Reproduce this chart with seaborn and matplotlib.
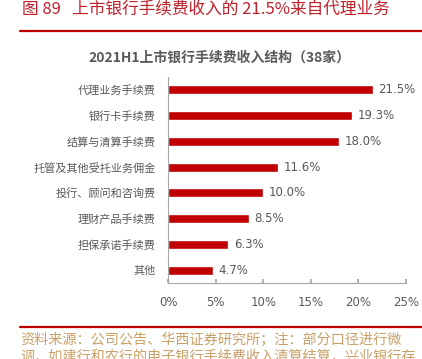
import matplotlib
matplotlib.use("Agg")
import matplotlib.pyplot as plt
import seaborn as sns
import pandas as pd

categories = ["代理业务手续费", "银行卡手续费", "结算与清算手续费", "托管及其他受托业务佣金",
              "投行、顾问和咨询费", "理财产品手续费", "担保承诺手续费", "其他"]
values = [21.5, 19.3, 18.0, 11.6, 10.0, 8.5, 6.3, 4.7]
xticks = [0, 5, 10, 15, 20, 25]

sns.set_theme(style="white")
plt.rcParams['font.family'] = ['Noto Sans CJK SC', 'DejaVu Sans']

df = pd.DataFrame({"cat": categories, "val": values})

fig = plt.figure(figsize=(4.22, 3.59), dpi=100)
ax = fig.add_axes([168/422, 1-283/359, (406-168)/422, (283-77)/359])
sns.barplot(data=df, y="cat", x="val", color="#C00000", width=0.35, ax=ax, saturation=1)
ax.set_xlim(0, 25)
ax.set_xticks(xticks)
ax.set_xticklabels([f"{t}%" for t in xticks], fontsize=8.5, color="#595959", family="DejaVu Sans")
ax.set_ylabel("")
ax.set_xlabel("")
ax.tick_params(axis="x", direction="in", length=3, color="#A6A6A6", pad=9, bottom=True)
ax.tick_params(axis="y", length=0, pad=9)
for lbl in ax.get_yticklabels():
    lbl.set_fontsize(8)
    lbl.set_color("#595959")
for s in ["top", "right"]:
    ax.spines[s].set_visible(False)
for s in ["left", "bottom"]:
    ax.spines[s].set_color("#A6A6A6")
    ax.spines[s].set_linewidth(0.8)
for i, v in enumerate(values):
    ax.text(v + 0.6, i, f"{v:.1f}%", va="center", ha="left", fontsize=8.5, color="#595959",
            family="DejaVu Sans")

fig.text(22/422, 1-9/359, "图 89   上市银行手续费收入的 21.5%来自代理业务", color="#C0202A",
         fontsize=12, va="center", ha="left")
fig.add_artist(plt.Line2D([20/422, 1], [1-31/359, 1-31/359], color="#C00000", lw=1.6))
fig.text(0.52, 1-58/359, "2021H1上市银行手续费收入结构（38家）", color="#595959",
         fontsize=10, fontweight="bold", va="center", ha="center")
fig.add_artist(plt.Line2D([20/422, 1], [1-327/359, 1-327/359], color="#C00000", lw=1.6))
fig.text(20/422, 1-340/359, "资料来源：公司公告、华西证券研究所；注：部分口径进行微",
         color="#C8A068", fontsize=10.2, va="center", ha="left")
fig.text(20/422, 1-357/359, "调，如建行和农行的电子银行手续费收入清算结算，兴业银行存",
         color="#C8A068", fontsize=10.2, va="center", ha="left")

fig.savefig("out.png", dpi=100)
